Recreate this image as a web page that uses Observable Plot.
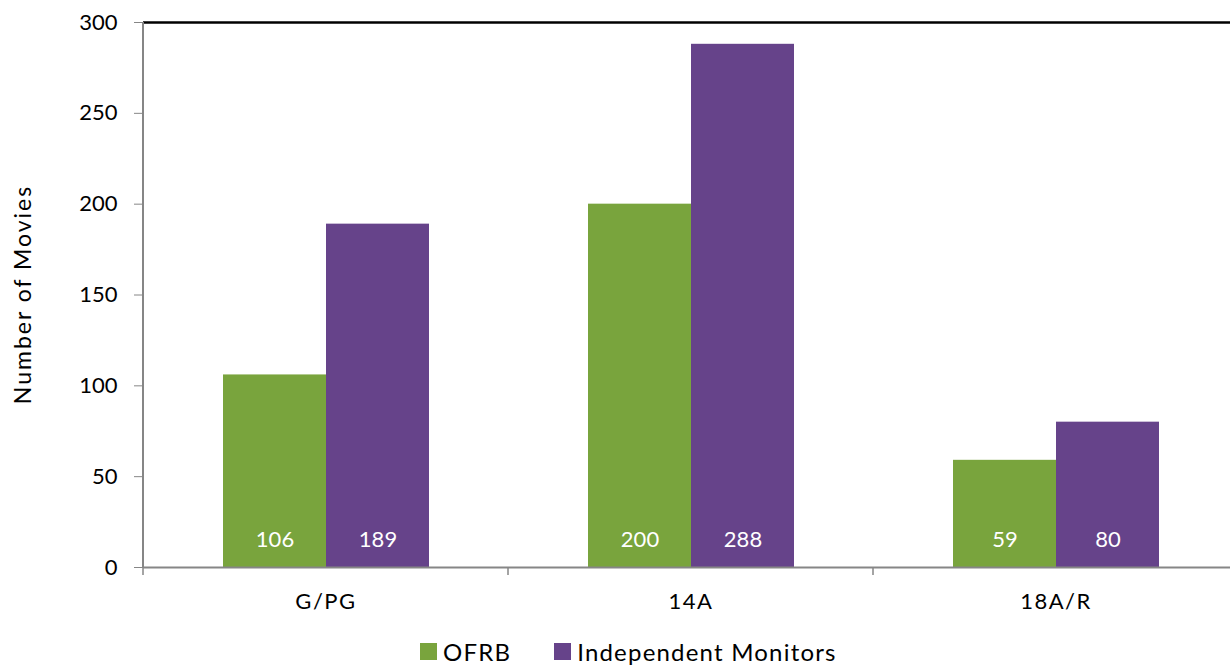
<!DOCTYPE html>
<html><head><meta charset="utf-8">
<script src="https://cdn.jsdelivr.net/npm/d3@7"></script>
<script src="https://cdn.jsdelivr.net/npm/@observablehq/plot@0.6"></script>
<style>
html,body{margin:0;padding:0;background:#fff;overflow:hidden;width:1230px;height:666px}
#chart{position:relative;width:1230px;height:666px;font-family:Lato,sans-serif;overflow:hidden}
#chart svg{display:block;max-width:none !important}
#legend{position:absolute;left:420px;top:637px;display:flex;align-items:center;font-size:24px;letter-spacing:1.2px;color:#000;white-space:nowrap}
.item{display:flex;align-items:center;margin-right:43px}
.sw{width:17px;height:17px;margin-right:6px}
</style></head><body><div id="chart"></div>
<script>
const categories = ["G/PG", "14A", "18A/R"];
const seriesNames = ["OFRB", "Independent Monitors"];
const ofrb = [106, 200, 59];
const monitors = [189, 288, 80];
const yTicks = [0, 50, 100, 150, 200, 250, 300];
const colors = ["#79a43d", "#66438a"];
const yLabel = "Number of Movies";

const rows = [];
categories.forEach((c, i) => {
  rows.push({cat: c, series: seriesNames[0], value: ofrb[i]});
  rows.push({cat: c, series: seriesNames[1], value: monitors[i]});
});

const plot = Plot.plot({
  width: 1238, height: 630,
  marginLeft: 143, marginRight: 0, marginTop: 22, marginBottom: 63,
  style: {fontFamily: "Lato, sans-serif", fontSize: "22px", background: "white", color: "#000", maxWidth: "none"},
  fx: {domain: categories, padding: 0, label: null, tickSize: 0, tickPadding: 26},
  x: {domain: seriesNames, paddingInner: 0, paddingOuter: 0.755, axis: null},
  y: {domain: [0, 300], ticks: yTicks, tickSize: 9, tickPadding: 17, label: null},
  color: {domain: seriesNames, range: colors},
  marks: [
    Plot.barY(rows, {fx: "cat", x: "series", y: "value", fill: "series"}),
    Plot.ruleY([0], {stroke: "#868686", strokeWidth: 2}),
    Plot.ruleY([300], {stroke: "#000", strokeWidth: 2.5}),
    Plot.text(rows, {fx: "cat", x: "series", y: 0, text: d => String(d.value), fill: "white", dy: -28, fontSize: 22})
  ]
});

document.getElementById("chart").appendChild(plot);

const svg = d3.select(plot);
const fx = plot.scale("fx");
const y = plot.scale("y");
svg.selectAll('g[aria-label="y-axis tick"]').attr("stroke", "#868686");
svg.selectAll('g[aria-label="y-axis tick"] path').attr("stroke", "#868686");
svg.selectAll('g[aria-label="fx-axis tick label"] text').style("letter-spacing", "1.5px");

const y0 = y.apply(0), yTop = y.apply(300);
const left = fx.apply(categories[0]);
const g = svg.append("g");
g.append("line").attr("x1", left).attr("x2", left).attr("y1", yTop).attr("y2", y0)
  .attr("stroke", "#868686").attr("stroke-width", 2);
const bounds = categories.map(c => fx.apply(c));
bounds.push(fx.apply(categories[categories.length - 1]) + fx.bandwidth);
bounds.forEach(b => {
  g.append("line").attr("x1", b).attr("x2", b).attr("y1", y0).attr("y2", y0 + 8)
    .attr("stroke", "#868686").attr("stroke-width", 1.5);
});
svg.append("text")
  .attr("transform", `translate(22,${(y0 + yTop) / 2}) rotate(-90)`)
  .attr("text-anchor", "middle").attr("dominant-baseline", "central")
  .attr("font-size", 23).attr("letter-spacing", "2px").attr("fill", "#000").text(yLabel);

const legend = document.createElement("div");
legend.id = "legend";
seriesNames.forEach((s, i) => {
  const item = document.createElement("div");
  item.className = "item";
  const sw = document.createElement("div");
  sw.className = "sw";
  sw.style.background = colors[i];
  const t = document.createElement("span");
  t.textContent = s;
  item.appendChild(sw); item.appendChild(t);
  legend.appendChild(item);
});
document.getElementById("chart").appendChild(legend);
</script></body></html>
